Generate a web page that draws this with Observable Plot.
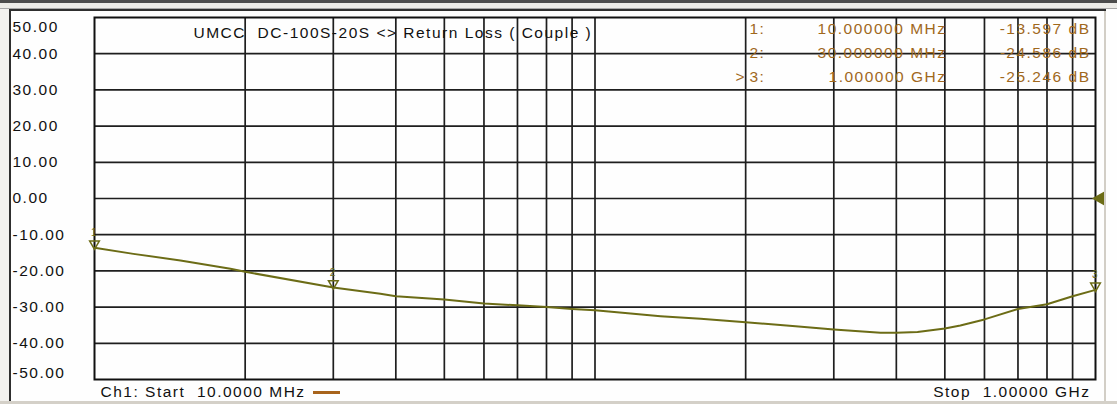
<!DOCTYPE html>
<html><head><meta charset="utf-8">
<script src="https://cdn.jsdelivr.net/npm/d3@7"></script>
<script src="https://cdn.jsdelivr.net/npm/@observablehq/plot@0.6"></script>
<style>
html,body{margin:0;padding:0;background:#fff;}
#wrap{position:relative;width:1117px;height:404px;overflow:hidden;background:#fefefe;}
#chart{position:absolute;left:0;top:0;}
#chart svg{font-family:"Liberation Sans",Arial,sans-serif;}
#chart svg text{letter-spacing:1.5px;}
.c{position:absolute;}
</style></head>
<body><div id="wrap"><div id="chart"></div>
<div class="c" style="left:0;top:0;width:1117px;height:3px;background:#4c4c4c"></div>
<div class="c" style="left:0;top:3px;width:1117px;height:5px;background:#ecebe7;border-bottom:1px solid #a8a8a8"></div>
<div class="c" style="left:9px;top:9px;width:1097px;height:2px;background:#2e2e2e"></div>
<div class="c" style="left:0;top:9px;width:9px;height:395px;background:#f2f1ee"></div>
<div class="c" style="left:9px;top:9px;width:2px;height:395px;background:#2e2e2e"></div>
<div class="c" style="left:1104px;top:11px;width:2px;height:393px;background:#d2cec6"></div>
<div class="c" style="left:0;top:401px;width:1117px;height:3px;background:#d4d0c8"></div>
<div class="c" style="left:313px;top:391px;width:27px;height:3px;background:#a8641c"></div>
</div>
<script>
// Trace: frequency (MHz) and return loss (dB)
const freqMHz = [10, 11.96, 14.85, 18.69, 20, 30, 37.26, 40, 50, 60, 70, 80, 90, 100, 117.8, 135.2, 162.6, 200, 251.6, 300, 372, 400, 441, 500, 537, 600, 700, 800, 900, 1000];
const lossDB  = [-13.597, -15.3, -17.1, -19.4, -20.25, -24.586, -26.3, -27.0, -27.9, -29.0, -29.5, -30.0, -30.5, -30.85, -31.8, -32.5, -33.2, -34.2, -35.3, -36.2, -37.1, -37.1, -36.9, -35.9, -35.1, -33.4, -30.5, -29.2, -27.0, -25.246];

// Markers
const markerNums = [1, 2, 3];
const markerFreqs = [10, 30, 1000];
const markerValues = [-13.597, -24.586, -25.246];
const markerFreqLabels = ["10.000000 MHz", "30.000000 MHz", "1.000000 GHz"];
const markerValueLabels = ["-13.597 dB", "-24.586 dB", "-25.246 dB"];
const activeMarker = 3;

// Axes / grid
const yTicks = [50, 40, 30, 20, 10, 0, -10, -20, -30, -40, -50];
const xGrid = [20, 30, 40, 50, 60, 70, 80, 90, 100, 200, 300, 400, 500, 600, 700, 800, 900];
const refLevel = 0;
const stopFreq = 1000;

const titleText = "UMCC  DC-100S-20S <> Return Loss ( Couple )";
const startText = "Ch1: Start  10.0000 MHz";
const stopText = "Stop  1.00000 GHz";

const trace = freqMHz.map((f, i) => ({f, v: lossDB[i]}));
const markers = markerNums.map((n, i) => ({n, f: markerFreqs[i], v: markerValues[i], fl: markerFreqLabels[i], vl: markerValueLabels[i]}));

const TRACE = "#6c6c16";
const MK = "#a0681c";
const GRID = "#1e1e1e";
const FS = 15.5;

const fmt = d => d.toFixed(2);
const midTicks = yTicks.filter(d => d !== 50 && d !== -50);

const rowMarks = markers.flatMap((m, i) => {
  const dy = 12 + i * 24;
  const base = {frameAnchor: "top-left", dy, fill: MK, fontSize: FS, lineAnchor: "middle"};
  const out = [
    Plot.text([m], {...base, text: d => d.n + ":", dx: 655, textAnchor: "start"}),
    Plot.text([m], {...base, text: d => d.fl, dx: 852, textAnchor: "end"}),
    Plot.text([m], {...base, text: d => d.vl, dx: 996, textAnchor: "end"})
  ];
  if (m.n === activeMarker) out.push(Plot.text([m], {...base, text: () => ">", dx: 641, textAnchor: "start"}));
  return out;
});

const plot = Plot.plot({
  width: 1117,
  height: 404,
  marginLeft: 94,
  marginRight: 22,
  marginTop: 17,
  marginBottom: 25,
  style: {background: "transparent", fontSize: FS + "px", color: "#111"},
  x: {type: "log", domain: [10, 1000], axis: null},
  y: {domain: [-50, 50], axis: null},
  marks: [
    Plot.ruleX(xGrid, {stroke: GRID, strokeWidth: 1.7}),
    Plot.ruleY(midTicks, {stroke: GRID, strokeWidth: 1.7}),
    Plot.frame({stroke: "#111", strokeWidth: 2}),
    Plot.text(midTicks, {y: d => d, text: fmt, frameAnchor: "left", dx: -82, textAnchor: "start", fill: "#111", fontSize: FS}),
    Plot.text([50], {y: d => d, text: fmt, frameAnchor: "left", dx: -82, dy: 3, textAnchor: "start", lineAnchor: "top", fill: "#111", fontSize: FS}),
    Plot.text([-50], {y: d => d, text: fmt, frameAnchor: "left", dx: -82, dy: -2, textAnchor: "start", lineAnchor: "bottom", fill: "#111", fontSize: FS}),
    Plot.text([titleText], {frameAnchor: "top-left", dx: 99, dy: 16, textAnchor: "start", lineAnchor: "middle", fill: "#111", fontSize: FS}),
    ...rowMarks,
    Plot.line(trace, {x: "f", y: "v", stroke: TRACE, strokeWidth: 2}),
    Plot.dot(markers, {x: "f", y: "v", symbol: "triangle", rotate: 180, r: 3.6, dy: -4, stroke: TRACE, strokeWidth: 1.5, fill: "none"}),
    Plot.text(markers, {x: "f", y: "v", text: d => String(d.n), dy: -15, fill: TRACE, fontSize: 10}),
    Plot.dot([{f: stopFreq, v: refLevel}], {x: "f", y: "v", symbol: "triangle", rotate: -90, r: 4.5, dx: 5, fill: TRACE, stroke: TRACE}),
    Plot.text([startText], {frameAnchor: "bottom-left", dx: 6, dy: 13, textAnchor: "start", lineAnchor: "middle", fill: "#111", fontSize: FS}),
    Plot.text([stopText], {frameAnchor: "bottom-right", dx: -5, dy: 13, textAnchor: "end", lineAnchor: "middle", fill: "#111", fontSize: FS})
  ]
});
document.getElementById("chart").appendChild(plot);
</script>
</body></html>
